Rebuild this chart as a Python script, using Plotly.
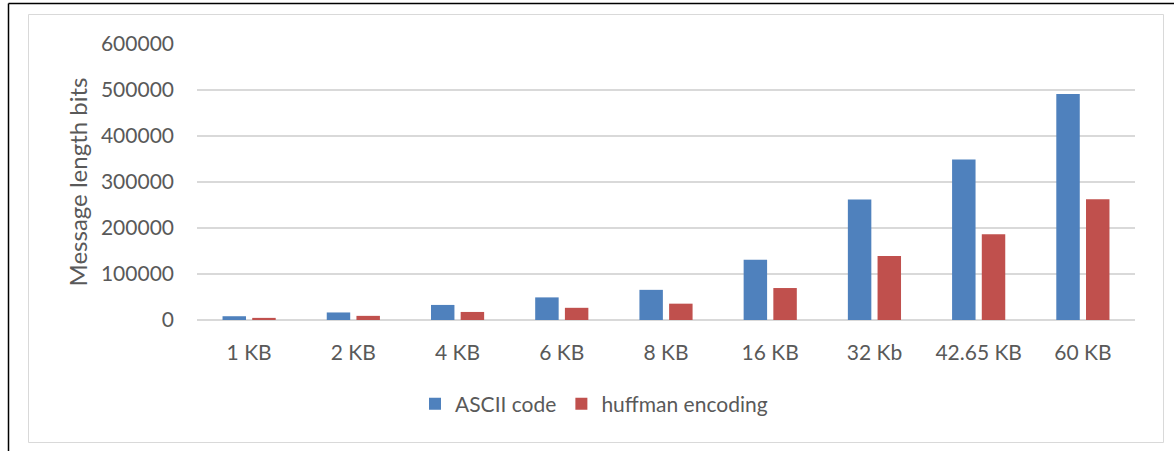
import plotly.graph_objects as go

categories = ["1 KB", "2 KB", "4 KB", "6 KB", "8 KB", "16 KB", "32 Kb", "42.65 KB", "60 KB"]
ascii_bits = [8192, 16384, 32768, 49152, 65536, 131072, 262144, 349000, 491520]
huffman_bits = [4600, 9000, 17500, 26500, 35500, 69500, 139000, 186500, 262500]

FONT = "Lato"
TXT = "#595959"

fig = go.Figure()
fig.add_trace(go.Bar(x=categories, y=ascii_bits, name="ASCII code",
                     marker=dict(color="#4F81BD", line=dict(width=0))))
fig.add_trace(go.Bar(x=categories, y=huffman_bits, name="huffman encoding",
                     marker=dict(color="#C0504D", line=dict(width=0))))

W, H = 1174, 451
L, R, T, B = 197, 39, 44, 131
pw, ph = W - L - R, H - T - B

def px(x):
    return (x - L) / pw

def py(y):
    return (H - B - y) / ph

shapes = [
    dict(type="line", xref="paper", yref="paper", x0=px(8.5), x1=px(1180), y0=py(3.5), y1=py(3.5),
         line=dict(color="#000000", width=1.5)),
    dict(type="line", xref="paper", yref="paper", x0=px(8.5), x1=px(8.5), y0=py(3.5), y1=py(455),
         line=dict(color="#000000", width=1.5)),
    dict(type="rect", xref="paper", yref="paper", x0=px(28.5), x1=px(1163.5), y0=py(14.5), y1=py(442.5),
         line=dict(color="#D9D9D9", width=1)),
]

fig.update_layout(
    width=W, height=H,
    margin=dict(l=L, r=R, t=T, b=B, pad=0, autoexpand=False),
    paper_bgcolor="white", plot_bgcolor="white",
    font=dict(family=FONT, color=TXT, size=21),
    barmode="group", bargap=0.43, bargroupgap=0.21,
    shapes=shapes,
    showlegend=True,
    legend=dict(orientation="h", x=px(594), xanchor="center", y=py(404), yanchor="middle",
                font=dict(family=FONT, size=21, color=TXT), itemwidth=30,
                bgcolor="rgba(0,0,0,0)", traceorder="normal"),
    xaxis=dict(showgrid=False, showline=False, zeroline=False, ticks="",
               tickfont=dict(family=FONT, size=21, color=TXT), ticklabelstandoff=18),
    yaxis=dict(range=[0, 600000], dtick=100000, tickformat="d", showgrid=True,
               gridcolor="#D9D9D9", gridwidth=1.5, zeroline=True, zerolinecolor="#D9D9D9",
               zerolinewidth=1.5, showline=False, ticks="",
               tickfont=dict(family=FONT, size=21, color=TXT), ticklabelstandoff=22,
               title=dict(text="Message length bits", font=dict(family=FONT, size=24, color=TXT),
                          standoff=6)),
)

fig.write_html("out.html", config={"displayModeBar": False},
               post_script="document.body.style.margin='0';document.body.style.overflow='hidden';")
